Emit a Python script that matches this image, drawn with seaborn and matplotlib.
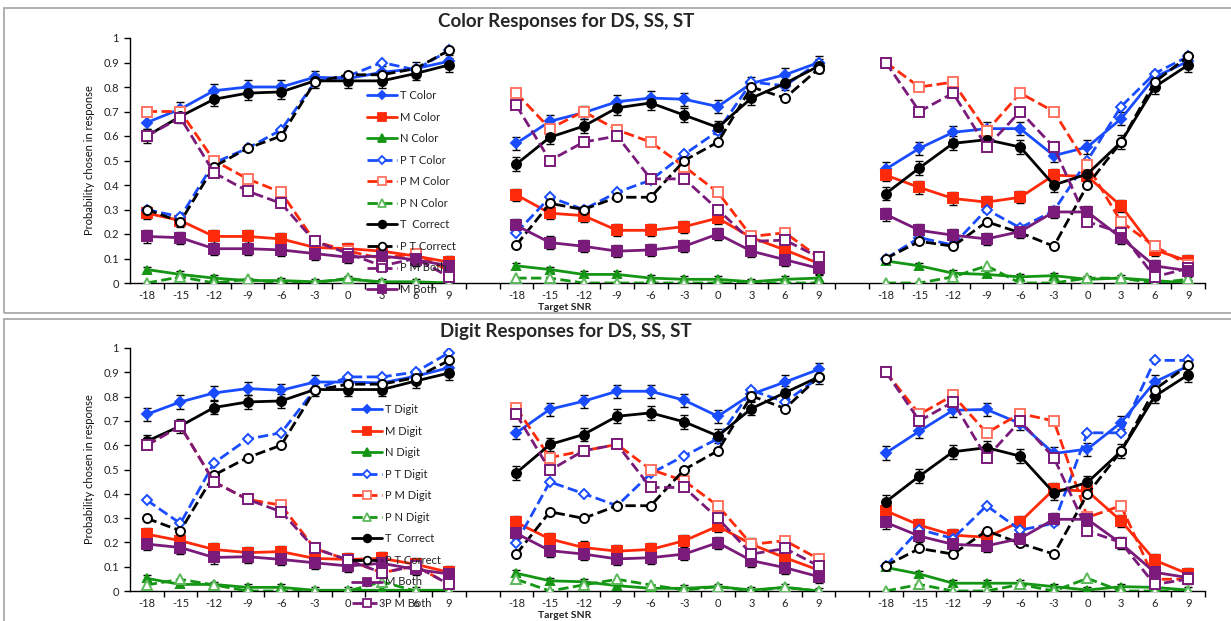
import numpy as np
import pandas as pd
import matplotlib.pyplot as plt
import seaborn as sns
from matplotlib.lines import Line2D
from matplotlib.patches import Rectangle

# ---------------- DATA ----------------
SNR = [-18, -15, -12, -9, -6, -3, 0, 3, 6, 9]
CONDITIONS = ["DS", "SS", "ST"]  # three panels, left to right

# Color responses
T_COLOR = [[0.655, 0.71, 0.785, 0.80, 0.80, 0.84, 0.835, 0.86, 0.875, 0.905],
           [0.57, 0.66, 0.695, 0.74, 0.755, 0.75, 0.72, 0.815, 0.85, 0.90],
           [0.465, 0.55, 0.615, 0.63, 0.63, 0.52, 0.555, 0.67, 0.84, 0.905]]
M_COLOR = [[0.285, 0.255, 0.19, 0.19, 0.18, 0.145, 0.14, 0.13, 0.11, 0.085],
           [0.36, 0.285, 0.275, 0.215, 0.215, 0.23, 0.265, 0.185, 0.135, 0.08],
           [0.44, 0.39, 0.345, 0.33, 0.35, 0.44, 0.435, 0.315, 0.135, 0.09]]
N_COLOR = [[0.055, 0.035, 0.02, 0.01, 0.01, 0.005, 0.015, 0.005, 0.005, 0.0],
           [0.07, 0.055, 0.035, 0.035, 0.02, 0.015, 0.015, 0.005, 0.015, 0.02],
           [0.09, 0.07, 0.04, 0.035, 0.025, 0.03, 0.015, 0.02, 0.01, 0.0]]
PT_COLOR = [[0.30, 0.27, 0.49, 0.55, 0.625, 0.82, 0.845, 0.90, 0.87, 0.95],
            [0.205, 0.35, 0.30, 0.37, 0.42, 0.525, 0.62, 0.82, 0.805, 0.90],
            [0.10, 0.185, 0.155, 0.30, 0.225, 0.295, 0.50, 0.72, 0.855, 0.925]]
PM_COLOR = [[0.70, 0.70, 0.50, 0.425, 0.37, 0.17, 0.13, 0.10, 0.12, 0.05],
            [0.775, 0.63, 0.70, 0.625, 0.575, 0.475, 0.37, 0.19, 0.205, 0.105],
            [0.90, 0.80, 0.82, 0.62, 0.775, 0.70, 0.48, 0.25, 0.15, 0.075]]
PN_COLOR = [[0.0, 0.025, 0.0, 0.015, 0.0, 0.0, 0.02, 0.0, 0.0, 0.0],
            [0.02, 0.02, 0.0, 0.0, 0.0, 0.0, 0.0, 0.0, 0.0, 0.0],
            [0.0, 0.0, 0.025, 0.07, 0.0, 0.0, 0.02, 0.02, 0.0, 0.015]]
T_CORRECT_C = [[0.60, 0.68, 0.75, 0.775, 0.78, 0.825, 0.825, 0.825, 0.855, 0.89],
               [0.485, 0.595, 0.64, 0.715, 0.735, 0.685, 0.635, 0.755, 0.815, 0.885],
               [0.365, 0.47, 0.57, 0.585, 0.555, 0.40, 0.445, 0.575, 0.80, 0.89]]
PT_CORRECT_C = [[0.30, 0.25, 0.475, 0.55, 0.60, 0.82, 0.85, 0.85, 0.875, 0.95],
                [0.155, 0.325, 0.30, 0.35, 0.35, 0.50, 0.575, 0.80, 0.755, 0.875],
                [0.10, 0.17, 0.15, 0.25, 0.205, 0.15, 0.40, 0.575, 0.82, 0.925]]
PM_BOTH_C = [[0.60, 0.675, 0.45, 0.375, 0.325, 0.17, 0.12, 0.07, 0.10, 0.025],
             [0.725, 0.50, 0.575, 0.60, 0.425, 0.425, 0.30, 0.17, 0.175, 0.105],
             [0.90, 0.70, 0.775, 0.555, 0.70, 0.555, 0.25, 0.205, 0.025, 0.06]]
M_BOTH_C = [[0.19, 0.185, 0.14, 0.14, 0.135, 0.12, 0.105, 0.11, 0.095, 0.07],
            [0.235, 0.165, 0.15, 0.13, 0.135, 0.15, 0.20, 0.13, 0.095, 0.06],
            [0.28, 0.215, 0.195, 0.18, 0.21, 0.29, 0.29, 0.185, 0.07, 0.05]]

# Digit responses
T_DIGIT = [[0.727, 0.778, 0.815, 0.833, 0.826, 0.86, 0.86, 0.856, 0.884, 0.919],
           [0.651, 0.748, 0.781, 0.822, 0.822, 0.785, 0.719, 0.81, 0.86, 0.912],
           [0.568, 0.658, 0.744, 0.747, 0.689, 0.566, 0.584, 0.693, 0.86, 0.926]]
M_DIGIT = [[0.234, 0.207, 0.171, 0.158, 0.162, 0.134, 0.13, 0.134, 0.11, 0.077],
           [0.282, 0.214, 0.179, 0.164, 0.171, 0.207, 0.267, 0.192, 0.137, 0.086],
           [0.33, 0.271, 0.23, 0.221, 0.285, 0.418, 0.411, 0.289, 0.127, 0.07]]
N_DIGIT = [[0.052, 0.027, 0.027, 0.015, 0.015, 0.003, 0.003, 0.003, 0.003, 0.003],
           [0.073, 0.042, 0.038, 0.022, 0.011, 0.011, 0.018, 0.004, 0.015, 0.0],
           [0.097, 0.07, 0.032, 0.032, 0.032, 0.018, 0.004, 0.018, 0.015, 0.004]]
PT_DIGIT = [[0.374, 0.278, 0.527, 0.625, 0.651, 0.829, 0.881, 0.881, 0.901, 0.981],
            [0.199, 0.449, 0.401, 0.351, 0.484, 0.556, 0.627, 0.826, 0.778, 0.878],
            [0.104, 0.253, 0.216, 0.351, 0.251, 0.278, 0.651, 0.651, 0.949, 0.949]]
PM_DIGIT = [[0.60, 0.679, 0.449, 0.377, 0.353, 0.175, 0.127, 0.075, 0.103, 0.027],
            [0.753, 0.549, 0.577, 0.603, 0.50, 0.453, 0.351, 0.192, 0.207, 0.132],
            [0.901, 0.727, 0.805, 0.651, 0.73, 0.70, 0.303, 0.351, 0.048, 0.049]]
PN_DIGIT = [[0.025, 0.048, 0.025, 0.0, 0.0, 0.0, 0.0, 0.038, 0.0, 0.0],
            [0.048, 0.0, 0.025, 0.048, 0.025, 0.004, 0.018, 0.0, 0.015, 0.0],
            [0.0, 0.027, 0.0, 0.0, 0.027, 0.0, 0.052, 0.0, 0.0, 0.0]]
T_CORRECT_D = [[0.616, 0.679, 0.755, 0.778, 0.782, 0.829, 0.829, 0.829, 0.864, 0.897],
               [0.486, 0.603, 0.644, 0.719, 0.733, 0.696, 0.638, 0.751, 0.816, 0.881],
               [0.367, 0.473, 0.573, 0.59, 0.555, 0.404, 0.447, 0.575, 0.801, 0.89]]
PT_CORRECT_D = [[0.299, 0.248, 0.477, 0.549, 0.60, 0.826, 0.851, 0.851, 0.878, 0.949],
                [0.152, 0.326, 0.299, 0.351, 0.351, 0.50, 0.577, 0.803, 0.751, 0.881],
                [0.104, 0.175, 0.152, 0.248, 0.196, 0.152, 0.399, 0.575, 0.829, 0.929]]
M_BOTH_D = [[0.193, 0.179, 0.138, 0.141, 0.13, 0.116, 0.103, 0.114, 0.089, 0.07],
            [0.237, 0.166, 0.152, 0.132, 0.137, 0.152, 0.199, 0.125, 0.096, 0.059],
            [0.282, 0.226, 0.192, 0.186, 0.216, 0.295, 0.295, 0.196, 0.077, 0.055]]
PM_BOTH_D = [[0.60, 0.679, 0.449, 0.377, 0.326, 0.175, 0.127, 0.075, 0.103, 0.027],
             [0.727, 0.497, 0.577, 0.603, 0.426, 0.426, 0.299, 0.152, 0.175, 0.103],
             [0.901, 0.70, 0.778, 0.549, 0.70, 0.549, 0.248, 0.199, 0.027, 0.049]]

# approximate standard errors (solid series only)
SE_T, SE_M, SE_N, SE_COR, SE_BOTH = 0.027, 0.025, 0.012, 0.028, 0.025
# --------------------------------------

BLUE = "#1a4cff"
RED = "#ff2a0a"
RED_OPEN = "#ff7563"
GREEN = "#149614"
GREEN_OPEN = "#5cba5c"
PURPLE = "#7a1a7a"
BLACK = "#000000"

# style: (color, marker, size, facecolor, edgecolor, linestyle)
ST_T = (BLUE, "D", 4.8, BLUE, BLUE, "-")
ST_M = (RED, "s", 7.5, RED, RED, "-")
ST_N = (GREEN, "^", 6, GREEN, GREEN, "-")
ST_PT = (BLUE, "D", 4.8, "white", BLUE, "--")
ST_PM = (RED, "s", 7.5, "white", RED_OPEN, "--")
ST_PN = (GREEN, "^", 6.5, "white", GREEN_OPEN, "--")
ST_COR = (BLACK, "o", 6.5, BLACK, BLACK, "-")
ST_PCOR = (BLACK, "o", 6.5, "white", BLACK, "--")
ST_PBOTH = (PURPLE, "s", 7.5, "white", PURPLE, "--")
ST_BOTH = (PURPLE, "s", 7.5, PURPLE, PURPLE, "-")

ROWS = [
    dict(title="Color Responses for DS, SS, ST", top=38, bottom=283,
         legend_xy=(367, 90),
         series=[("T Color", T_COLOR, ST_T, SE_T),
                 ("M Color", M_COLOR, ST_M, SE_M),
                 ("N Color", N_COLOR, ST_N, SE_N),
                 ("P T Color", PT_COLOR, ST_PT, None),
                 ("P M Color", PM_COLOR, ST_PM, None),
                 ("P N Color", PN_COLOR, ST_PN, None),
                 ("T  Correct", T_CORRECT_C, ST_COR, SE_COR),
                 ("P T Correct", PT_CORRECT_C, ST_PCOR, None),
                 ("P M Both", PM_BOTH_C, ST_PBOTH, None),
                 ("M Both", M_BOTH_C, ST_BOTH, SE_BOTH)]),
    dict(title="Digit Responses for DS, SS, ST", top=348, bottom=591,
         legend_xy=(352, 404),
         series=[("T Digit", T_DIGIT, ST_T, SE_T),
                 ("M Digit", M_DIGIT, ST_M, SE_M),
                 ("N Digit", N_DIGIT, ST_N, SE_N),
                 ("P T Digit", PT_DIGIT, ST_PT, None),
                 ("P M Digit", PM_DIGIT, ST_PM, None),
                 ("P N Digit", PN_DIGIT, ST_PN, None),
                 ("T  Correct", T_CORRECT_D, ST_COR, SE_COR),
                 ("P T Correct", PT_CORRECT_D, ST_PCOR, None),
                 ("M Both", M_BOTH_D, ST_BOTH, SE_BOTH),
                 ("P M Both", PM_BOTH_D, ST_PBOTH, None)]),
]

W, H = 1231, 621
GAP = 1  # one empty category between panels
N_CAT = len(CONDITIONS) * len(SNR) + (len(CONDITIONS) - 1) * GAP


def to_frame(values):
    rows = []
    for p, cond in enumerate(CONDITIONS):
        for i, snr in enumerate(SNR):
            rows.append({"panel": cond, "snr": snr,
                         "pos": p * (len(SNR) + GAP) + i,
                         "value": values[p][i]})
    return pd.DataFrame(rows)


sns.set_theme(style="white")
plt.rcParams["font.family"] = ["Lato", "DejaVu Sans"]

fig = plt.figure(figsize=(W / 100, H / 100), dpi=100)

# frames around each chart
for y0, y1 in [(8, 313), (319, 630)]:
    fig.add_artist(Rectangle((4 / W, 1 - y1 / H), 1.2, (y1 - y0) / H,
                             transform=fig.transFigure, fill=False,
                             edgecolor="#a9a9a9", linewidth=1.3))

left, right = 130 / W, 1205 / W
for row in ROWS:
    ax = fig.add_axes([left, 1 - row["bottom"] / H, right - left,
                       (row["bottom"] - row["top"]) / H])
    handles = []
    for label, values, style, se in row["series"]:
        color, marker, ms, fc, ec, ls = style
        d = to_frame(values)
        if se is not None:
            ax.errorbar(d["pos"], d["value"], yerr=se, fmt="none",
                        ecolor="black", elinewidth=1, capsize=2.8,
                        capthick=1, zorder=2)
        sns.lineplot(data=d, x="pos", y="value", units="panel",
                     estimator=None, sort=False, ax=ax, color=color,
                     marker=marker, markersize=ms, markerfacecolor=fc,
                     markeredgecolor=ec, markeredgewidth=1.4,
                     linestyle=ls, linewidth=2, legend=False, zorder=3)
        handles.append(Line2D([], [], color=color, marker=marker,
                              markersize=ms * 0.85, markerfacecolor=fc,
                              markeredgecolor=ec, markeredgewidth=1.3,
                              linestyle=ls, linewidth=2, label=label))

    ax.set_xlim(-0.5, N_CAT - 0.5)
    ax.set_ylim(0, 1)
    centers = [p * (len(SNR) + GAP) + i
               for p in range(len(CONDITIONS)) for i in range(len(SNR))]
    ax.set_xticks(centers)
    ax.set_xticklabels([str(s) for _ in CONDITIONS for s in SNR])
    ax.set_xticks(np.arange(0.5, N_CAT, 1), minor=True)
    ax.tick_params(axis="x", which="major", length=0, pad=5,
                   labelsize=8, labelcolor="#222222")
    ax.tick_params(axis="x", which="minor", length=4, width=1,
                   color="black", direction="out", bottom=True)
    yt = np.round(np.arange(0, 1.01, 0.1), 1)
    ax.set_yticks(yt)
    ax.set_yticklabels(["0" if v == 0 else ("1" if v == 1 else f"{v:g}")
                        for v in yt])
    ax.tick_params(axis="y", length=4, width=1, color="black",
                   direction="out", left=True, labelsize=8,
                   labelcolor="#222222", pad=4)
    ax.set_xlabel("")
    ax.set_ylabel("Probability chosen in response", fontsize=8,
                  color="#111111", labelpad=6)
    for side in ["top", "right"]:
        ax.spines[side].set_visible(False)
    for side in ["left", "bottom"]:
        ax.spines[side].set_color("black")
        ax.spines[side].set_linewidth(1)
    ax.patch.set_alpha(0)

    lx, ly = row["legend_xy"]
    fig.legend(handles=handles, loc="upper left",
               bbox_to_anchor=(lx / W, 1 - ly / H),
               bbox_transform=fig.transFigure, frameon=False,
               fontsize=8, borderpad=0, borderaxespad=0,
               handlelength=2.7, handletextpad=0.25, labelspacing=0.95,
               labelcolor="#222222")

    fig.text(566 / W, 1 - (row["top"] - 16) / H, row["title"],
             ha="center", va="center", fontsize=13.5, fontweight="bold")
    fig.text(565 / W, 1 - (row["bottom"] + 24) / H, "Target SNR",
             ha="center", va="center", fontsize=7.5, fontweight="bold",
             color="#222222")

plt.savefig("out.png", dpi=100)
